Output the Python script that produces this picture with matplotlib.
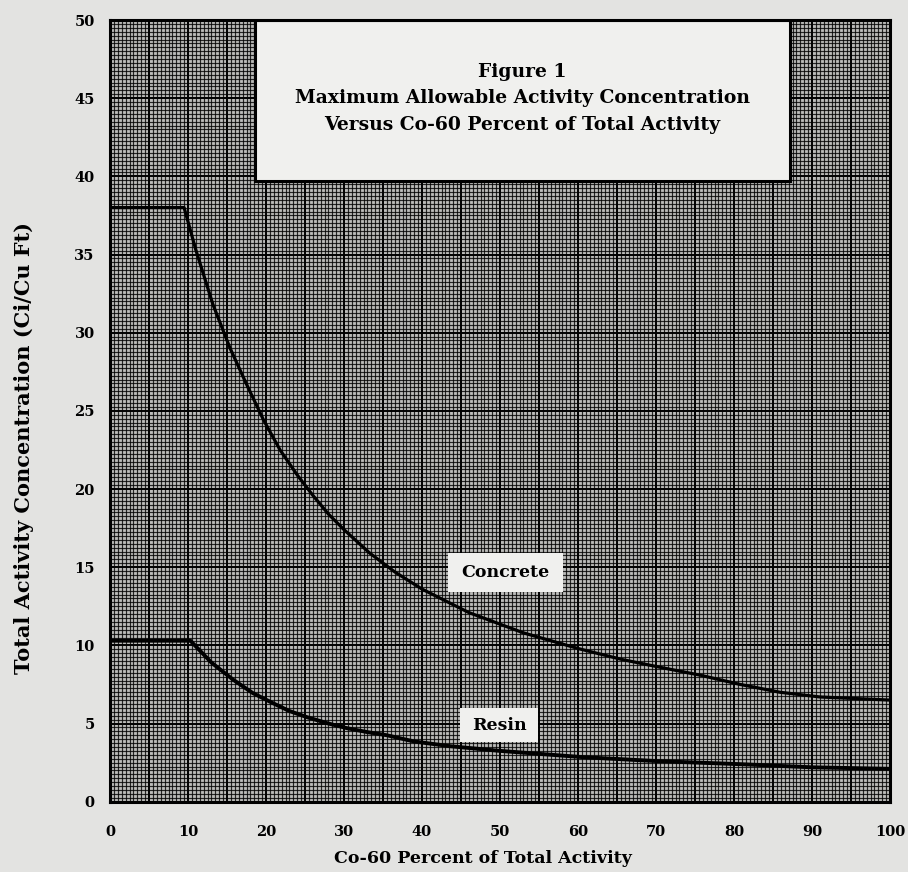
import numpy as np
import matplotlib
matplotlib.use('Agg')
matplotlib.rcParams['font.family'] = 'serif'
matplotlib.rcParams['font.serif'] = ['DejaVu Serif']
matplotlib.rcParams['font.weight'] = 'bold'
import matplotlib.pyplot as plt
from matplotlib.patches import Rectangle

# Co-60 fraction (% of total activity) vs allowable concentration (Ci/Cu Ft)
concrete_x = [0, 9.5, 11.0, 13.2, 15.4, 17.6, 19.7, 21.8, 24.0, 26.0, 28.0,
              30.0, 33.3, 36.5, 40.0, 46.0, 53.0, 60.0, 65.6, 70.5, 75.6,
              80.8, 85.9, 91.0, 100]
concrete_y = [38, 38, 35.3, 31.8, 29.0, 26.6, 24.4, 22.5, 20.9, 19.6, 18.4,
              17.4, 15.9, 14.7, 13.6, 12.1, 10.8, 9.8, 9.1, 8.6, 8.1,
              7.5, 7.0, 6.7, 6.5]

resin_x = [0, 10.3, 13.0, 15.8, 18.3, 20.9, 23.0, 25.3, 28.0, 30.4, 33.0,
           35.5, 39.0, 43.6, 50, 60.6, 70, 80.8, 90, 100]
resin_y = [10.3, 10.3, 8.9, 7.8, 6.95, 6.3, 5.8, 5.4, 5.0, 4.7, 4.45,
           4.25, 3.85, 3.55, 3.25, 2.85, 2.6, 2.4, 2.2, 2.1]

xticks = [0, 10, 20, 30, 40, 50, 60, 70, 80, 90, 100]
yticks = [0, 5, 10, 15, 20, 25, 30, 35, 40, 45, 50]

title_lines = ['Figure 1',
               'Maximum Allowable Activity Concentration',
               'Versus Co-60 Percent of Total Activity']

paper = '#e3e3e1'
card = '#f0f0ee'

F = plt.figure(figsize=(9.08, 8.72), dpi=100, facecolor=paper)
ax = F.add_axes([110/908., 1 - 801.7/872., 780/908., 781.7/872.])
ax.set_facecolor('#bdbdbb')

# graph paper: fine rulings plus heavy lines every 5 units
for xv in np.arange(0, 100.01, 0.5):
    heavy = abs(xv/5 - round(xv/5)) < 1e-6
    ax.axvline(xv, color='k', lw=1.4 if heavy else 0.85,
               alpha=1.0 if heavy else 0.8, zorder=1)
for yv in np.arange(0, 50.01, 0.25):
    heavy = abs(yv/5 - round(yv/5)) < 1e-6
    ax.axhline(yv, color='k', lw=1.4 if heavy else 0.85,
               alpha=1.0 if heavy else 0.8, zorder=1)

ax.plot(concrete_x, concrete_y, color='k', lw=2.3, solid_capstyle='butt',
        solid_joinstyle='round', zorder=3)
ax.plot(resin_x, resin_y, color='k', lw=2.8, solid_capstyle='butt',
        solid_joinstyle='round', zorder=3)

# title block
ax.add_patch(Rectangle((18.6, 39.7), 68.6, 10.3, facecolor=card,
                       edgecolor='k', lw=2.2, zorder=4))
ty = [46.7, 45.0, 43.3]
for s, y in zip(title_lines, ty):
    ax.text(52.9, y, s, ha='center', va='center', fontsize=13.5,
            fontweight='bold', zorder=5)

# curve labels
ax.add_patch(Rectangle((43.3, 13.4), 14.8, 2.5, facecolor=card,
                       edgecolor='none', zorder=4))
ax.text(50.7, 14.65, 'Concrete', ha='center', va='center', fontsize=12.5,
        fontweight='bold', zorder=5)
ax.add_patch(Rectangle((44.9, 3.8), 10.0, 2.2, facecolor=card,
                       edgecolor='none', zorder=4))
ax.text(49.9, 4.9, 'Resin', ha='center', va='center', fontsize=12.5,
        fontweight='bold', zorder=5)

ax.set_xlim(0, 100)
ax.set_ylim(0, 50)
ax.set_xticks(xticks)
ax.set_yticks(yticks)
ax.tick_params(length=0, labelsize=10.5)
ax.tick_params(axis='x', pad=17)
ax.tick_params(axis='y', pad=11)
for lab in ax.get_xticklabels() + ax.get_yticklabels():
    lab.set_fontweight('bold')
for sp in ax.spines.values():
    sp.set_linewidth(2.2)
    sp.set_zorder(6)

ax.set_xlabel('Co-60 Percent of Total Activity', fontsize=12.5, fontweight='bold')
ax.xaxis.set_label_coords(0.478, -0.062)
ax.set_ylabel('Total Activity Concentration (Ci/Cu Ft)', fontsize=15,
              fontweight='bold')
ax.yaxis.set_label_coords(-0.098, 0.452)

F.savefig('out.png', dpi=100, facecolor=paper)
